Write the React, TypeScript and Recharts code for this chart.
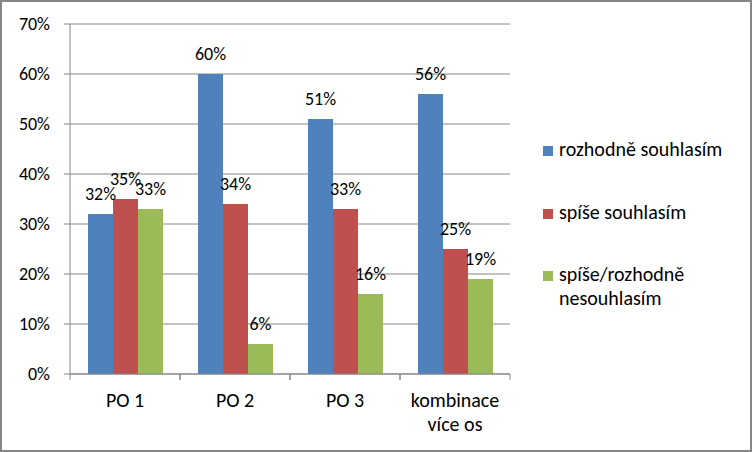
import { BarChart, Bar, XAxis, YAxis, CartesianGrid, LabelList } from 'recharts'

const categories = ['PO 1', 'PO 2', 'PO 3', 'kombinace více os']
const rozhodneSouhlasim = [32, 60, 51, 56]
const spiseSouhlasim = [35, 34, 33, 25]
const nesouhlasim = [33, 6, 16, 19]
const yTicks = [0, 10, 20, 30, 40, 50, 60, 70]

const seriesNames = ['rozhodně souhlasím', 'spíše souhlasím', 'spíše/rozhodně nesouhlasím']
const colors = ['#4F81BD', '#C0504D', '#9BBB59']

const FONT = 'Carlito, Calibri, Lato, "Open Sans", sans-serif'
const FS = 20 // words
const NUM_FS = 18 // percentages
const GRID = '#868686'

const data = categories.map((name, i) => ({
  name,
  a: rozhodneSouhlasim[i],
  b: spiseSouhlasim[i],
  c: nesouhlasim[i],
}))

// category label, may wrap to two lines; tick marks sit on category borders
const CategoryTick = ({ x, y, payload }: any) => {
  const half = payload?.offset ?? 0
  const words = String(payload.value)
  const lines = words === 'kombinace více os' ? ['kombinace', 'více os'] : [words]
  return (
    <g>
      <line x1={x - half} x2={x - half} y1={y} y2={y + 6} stroke={GRID} />
      <line x1={x + half} x2={x + half} y1={y} y2={y + 6} stroke={GRID} />
      {lines.map((l, i) => (
        <text key={i} x={x} y={y + 33 + i * 24} textAnchor="middle" fill="#000" fontSize={FS} fontFamily={FONT}>
          {l}
        </text>
      ))}
    </g>
  )
}

const legendLines = [['rozhodně souhlasím'], ['spíše souhlasím'], ['spíše/rozhodně', 'nesouhlasím']]
const legendTops = [137, 200, 262]

export default function App() {
  return (
    <div style={{ position: 'absolute', left: 0, top: 0, width: 752, height: 452, background: '#fff' }}>
      <BarChart
        width={752}
        height={452}
        data={data}
        margin={{ top: 24, right: 242, left: 0, bottom: 0 }}
        barCategoryGap={18}
        barGap={0}
      >
        <CartesianGrid vertical={false} stroke={GRID} />
        <XAxis
          dataKey="name"
          height={78}
          tickLine={false}
          tickSize={0}
          tickMargin={0}
          axisLine={{ stroke: GRID }}
          tick={<CategoryTick />}
          interval={0}
        />
        <YAxis
          width={70}
          domain={[0, 70]}
          ticks={yTicks}
          interval={0}
          tickSize={6}
          tickMargin={14}
          tickLine={{ stroke: GRID }}
          axisLine={{ stroke: GRID }}
          tick={{ fontSize: NUM_FS, fill: '#000', fontFamily: FONT }}
          tickFormatter={v => `${v}%`}
        />
        {['a', 'b', 'c'].map((k, i) => (
          <Bar key={k} dataKey={k} name={seriesNames[i]} fill={colors[i]} isAnimationActive={false}>
            <LabelList
              dataKey={k}
              position="top"
              offset={14}
              formatter={(v: any) => `${v}%`}
              style={{ fontSize: NUM_FS, fill: '#000', fontFamily: FONT }}
            />
          </Bar>
        ))}
      </BarChart>
      {legendLines.map((lines, i) => (
        <div key={i} style={{ position: 'absolute', left: 543, top: legendTops[i], fontFamily: FONT, fontSize: FS, color: '#000', lineHeight: '24px' }}>
          <span style={{ position: 'absolute', left: 0, top: 9, width: 10, height: 10, background: colors[i] }} />
          <div style={{ marginLeft: 16 }}>
            {lines.map((l, j) => (
              <div key={j} style={{ whiteSpace: 'nowrap' }}>{l}</div>
            ))}
          </div>
        </div>
      ))}
      <div style={{ position: 'absolute', inset: 0, border: '2px solid #868686', pointerEvents: 'none' }} />
    </div>
  )
}
